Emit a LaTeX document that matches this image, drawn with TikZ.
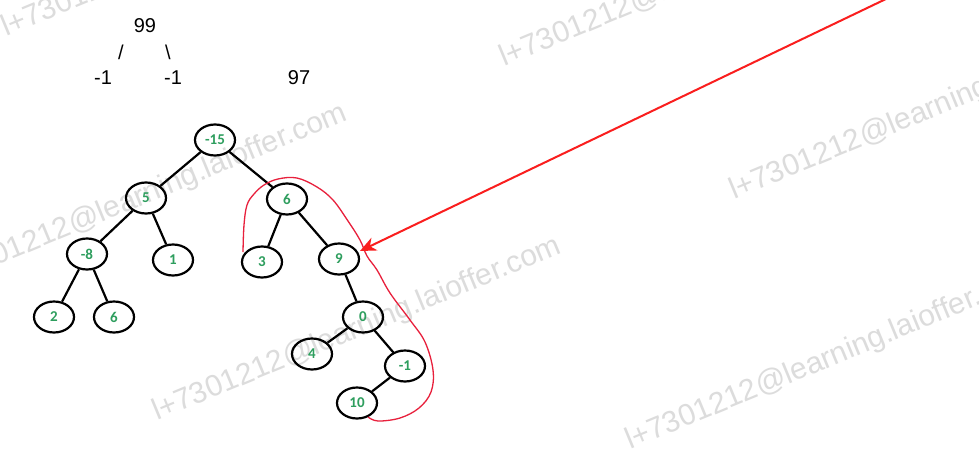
\documentclass[tikz,border=0pt]{standalone}
\usepackage{fontspec}
\setmainfont{Liberation Sans}
\newfontfamily\labfont{Carlito}
\usetikzlibrary{arrows.meta,shapes.geometric}
\definecolor{nodegreen}{RGB}{46,158,94}
\definecolor{wmgray}{RGB}{220,220,220}
\definecolor{penred}{RGB}{232,32,60}
\definecolor{arrred}{RGB}{250,30,30}
\tikzset{
  tnode/.style={ellipse, draw=black, line width=2.2pt, minimum width=40pt, minimum height=31pt, inner sep=0pt, font=\labfont\bfseries\fontsize{15}{15}\selectfont, text=nodegreen},
  tedge/.style={line width=2.2pt, draw=black},
  toptext/.style={font=\fontsize{20}{20}\selectfont, inner sep=0pt},
  wmark/.style={anchor=base west, rotate=22.5, inner sep=0pt, text=wmgray, font=\fontsize{30}{30}\selectfont},
  pencurve/.style={draw=penred, line width=1.3pt},
  redarrow/.style={draw=arrred, line width=2pt, -{Stealth[length=16pt, width=14pt, inset=5pt]}}
}
\begin{document}
\begin{tikzpicture}[x=1pt, y=-1pt]
\useasboundingbox[fill=white] (0,0) rectangle (979,453);
% watermarks
\node[wmark] (wa) at (6,37) {l+7301212@learning.laioffer.com};
\node[wmark] (wb) at (-57,288) {l+7301212@learning.laioffer.com};
\node[wmark] (wc) at (504,67) {l+7301212@learning.laioffer.com};
\node[wmark] (wd) at (734,200) {l+7301212@learning.laioffer.com};
\node[wmark] (we) at (157,421) {l+7301212@learning.laioffer.com};
\node[wmark] (wf) at (630,450) {l+7301212@learning.laioffer.com};
% top text
\node[toptext] (t99) at (145,26) {99};
\node[toptext] (tsl) at (121,52) {/};
\node[toptext] (tbs) at (168,52) {\textbackslash};
\node[toptext] (tm1a) at (103,78) {-1};
\node[toptext] (tm1b) at (173,78) {-1};
\node[toptext] (t97) at (299,78) {97};
% tree nodes
\node[tnode] (n15) at (215,140) {-15};
\node[tnode] (n5) at (146,198) {5};
\node[tnode] (n6) at (287,199) {6};
\node[tnode] (n8) at (87,254) {-8};
\node[tnode] (n1) at (173,260) {1};
\node[tnode] (n3) at (262,262) {3};
\node[tnode] (n9) at (339,259) {9};
\node[tnode] (n2) at (54,317) {2};
\node[tnode] (n6b) at (114,317) {6};
\node[tnode] (n0) at (363,317) {0};
\node[tnode] (n4) at (312,354) {4};
\node[tnode] (nm1) at (405,366) {-1};
\node[tnode] (n10) at (357,403) {10};
% edges
\draw[tedge] (n15) -- (n5);
\draw[tedge] (n15) -- (n6);
\draw[tedge] (n5) -- (n8);
\draw[tedge] (n5) -- (n1);
\draw[tedge] (n8) -- (n2);
\draw[tedge] (n8) -- (n6b);
\draw[tedge] (n6) -- (n3);
\draw[tedge] (n6) -- (n9);
\draw[tedge] (n9) -- (n0);
\draw[tedge] (n0) -- (n4);
\draw[tedge] (n0) -- (nm1);
\draw[tedge] (nm1) -- (n10);
% red hand-drawn curve
\draw[pencurve] plot[smooth, tension=0.6] coordinates {
  (243,252) (244,225) (247,205) (254,194) (264,185) (278,179) (297,178)
  (317,187) (333,200) (348,221) (360,240) (367,256) (377,270) (390,293)
  (410,320) (425,342) (433,370) (431,392) (419,408) (400,418) (378,421) (368,417)};
% red arrow
\coordinate (arrstart) at (888,-2);
\coordinate (arrtip) at (360,251);
\draw[redarrow] (arrstart) -- (arrtip);
\end{tikzpicture}
\end{document}
